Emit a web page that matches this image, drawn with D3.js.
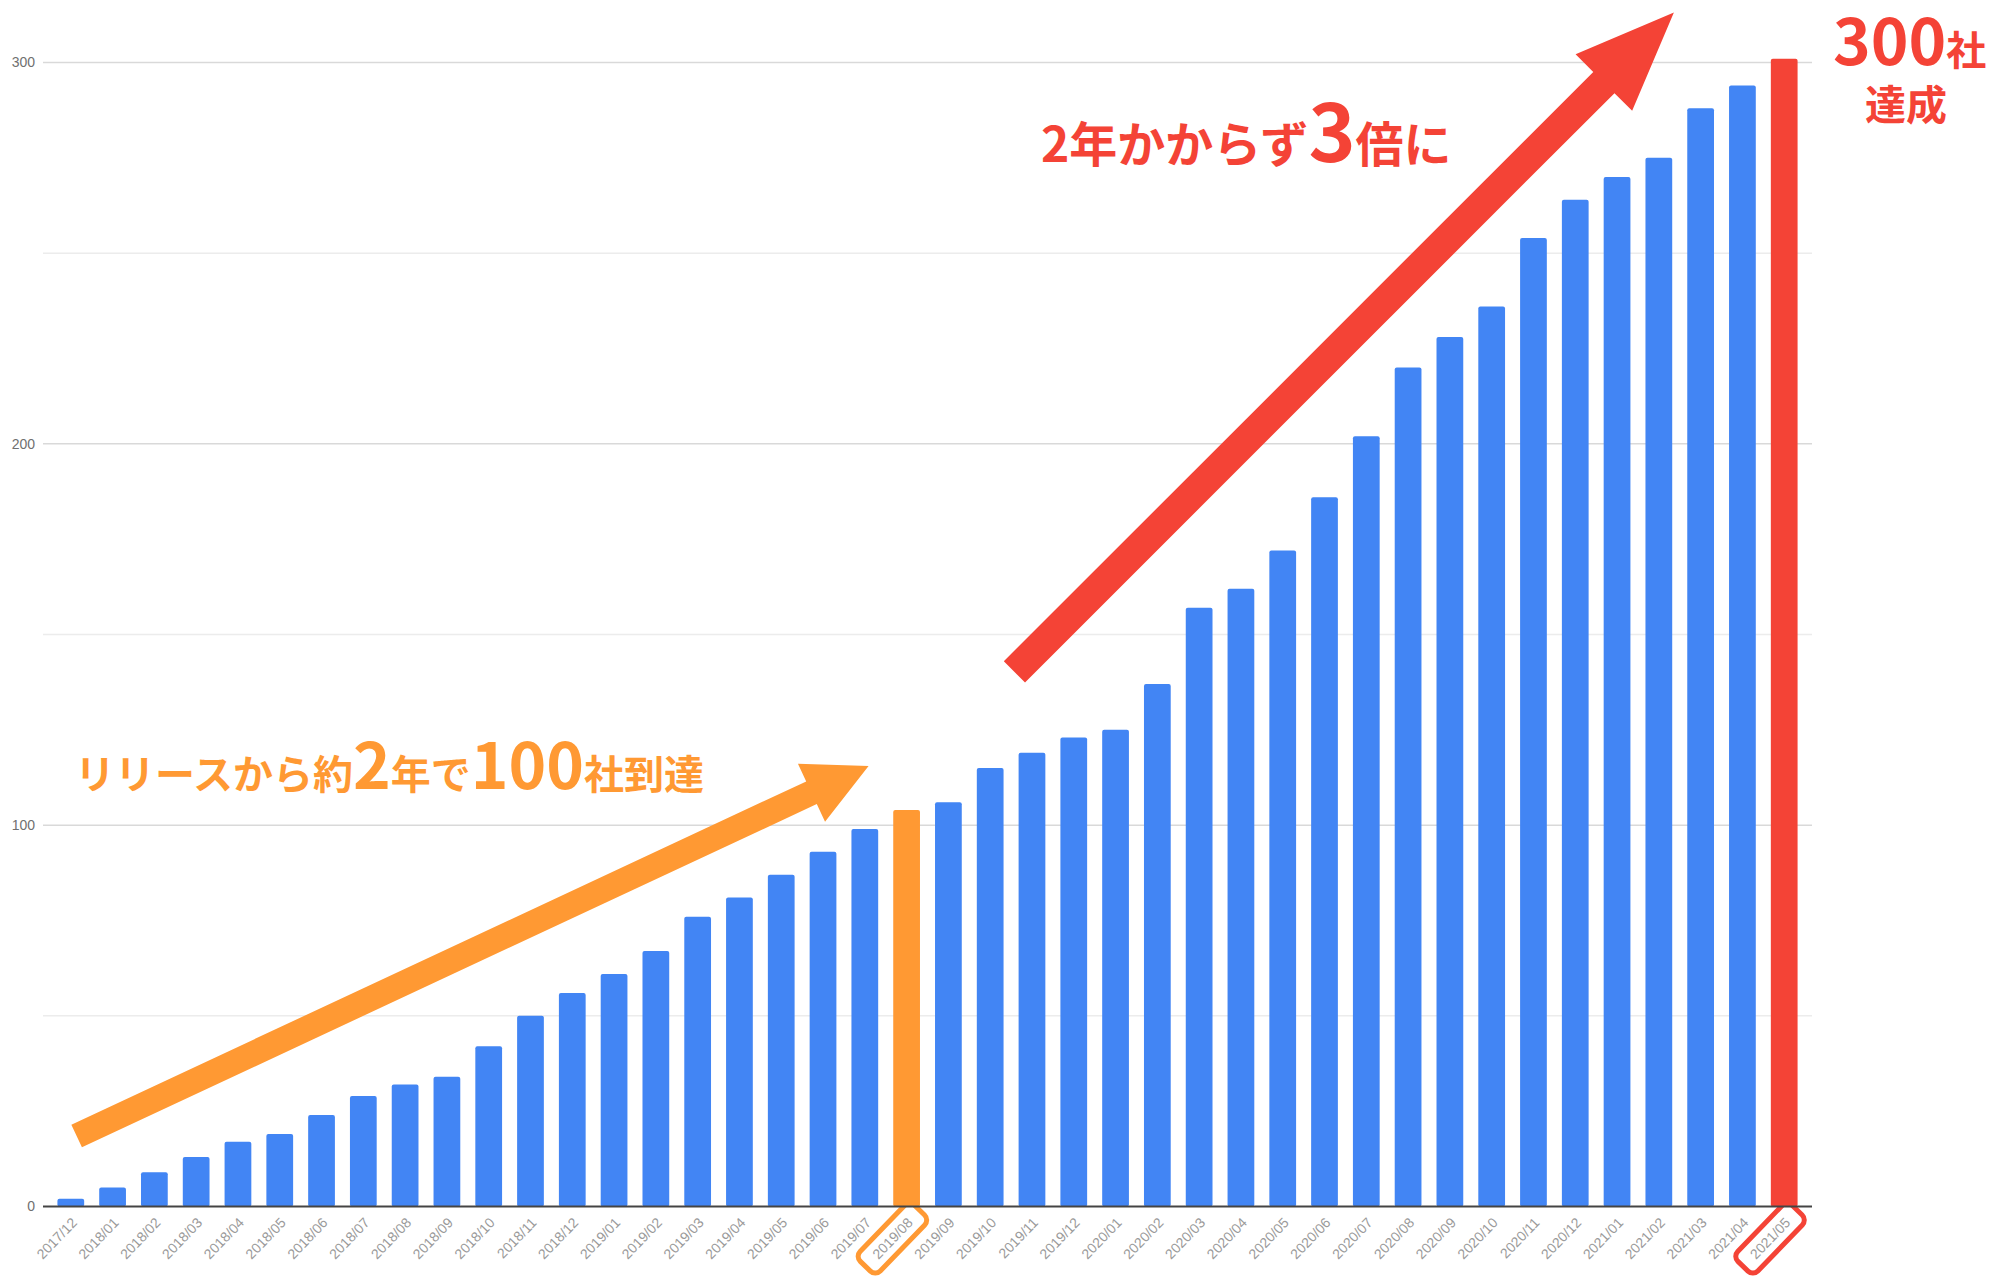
<!DOCTYPE html>
<html>
<head>
<meta charset="utf-8">
<script src="https://cdn.jsdelivr.net/npm/d3@7"></script>
<style>
  body { margin: 0; background: #fff; }
  svg { display: block; }
</style>
</head>
<body>
<div id="chart"></div>
<script>
// data
const months = [
  "2017/12",
  "2018/01", "2018/02", "2018/03", "2018/04", "2018/05", "2018/06",
  "2018/07", "2018/08", "2018/09", "2018/10", "2018/11", "2018/12",
  "2019/01", "2019/02", "2019/03", "2019/04", "2019/05", "2019/06",
  "2019/07", "2019/08", "2019/09", "2019/10", "2019/11", "2019/12",
  "2020/01", "2020/02", "2020/03", "2020/04", "2020/05", "2020/06",
  "2020/07", "2020/08", "2020/09", "2020/10", "2020/11", "2020/12",
  "2021/01", "2021/02", "2021/03", "2021/04", "2021/05"
];
const companies = [
  2,
  5, 9, 13, 17, 19, 24,
  29, 32, 34, 42, 50, 56,
  61, 67, 76, 81, 87, 93,
  99, 104, 106, 115, 119, 123,
  125, 137, 157, 162, 172, 186,
  202, 220, 228, 236, 254, 264,
  270, 275, 288, 294, 301
];
const yLabelTicks = [0, 100, 200, 300];
const yGridTicks = [50, 100, 150, 200, 250, 300];
const milestone100 = "2019/08";
const milestone300 = "2021/05";

// constants
const W = 1989;
const H = 1280;
const plotLeft = 43;
const plotRight = 1812;
const plotTop = 62.5;
const plotBottom = 1206.5;
const blue = "#4285F4";
const orange = "#FF9933";
const red = "#F44336";
const jpFont = "'Noto Sans CJK JP', 'Noto Sans', sans-serif";
const axisFont = "'Liberation Sans', Arial, sans-serif";

const svg = d3
  .select("#chart")
  .append("svg")
  .attr("width", W)
  .attr("height", H);

// scales
const x = d3
  .scaleBand()
  .domain(months)
  .range([plotLeft, plotRight])
  .paddingInner(0.36)
  .paddingOuter(0.345);

const y = d3.scaleLinear().domain([0, 300]).range([plotBottom, plotTop]);

// position helpers in data space (month index, value)
const px = (i) => x(months[0]) + x.bandwidth() / 2 + i * x.step();
const py = (v) => y(v);

// gridlines
svg
  .append("g")
  .selectAll("line")
  .data(yGridTicks)
  .enter()
  .append("line")
  .attr("x1", plotLeft)
  .attr("x2", plotRight)
  .attr("y1", (d) => y(d))
  .attr("y2", (d) => y(d))
  .attr("stroke", (d) => (d % 100 === 0 ? "#d9d9d9" : "#ececec"))
  .attr("stroke-width", 1.5);

// y axis labels
const yAxis = d3.axisLeft(y).tickValues(yLabelTicks).tickSize(0).tickPadding(0);
const gy = svg
  .append("g")
  .attr("transform", "translate(35,0)")
  .call(yAxis);
gy.select(".domain").remove();
gy.selectAll("text")
  .attr("font-family", axisFont)
  .attr("font-size", 14)
  .attr("fill", "#707070");

// bars
const barColor = (m) => (m === milestone100 ? orange : m === milestone300 ? red : blue);
svg
  .append("g")
  .selectAll("rect")
  .data(months)
  .enter()
  .append("rect")
  .attr("x", (d) => x(d))
  .attr("y", (d, i) => y(companies[i]))
  .attr("width", x.bandwidth())
  .attr("height", (d, i) => y(0) - y(companies[i]))
  .attr("rx", 2)
  .attr("fill", (d) => barColor(d));

// x axis
const xAxis = d3.axisBottom(x).tickSize(0);
const gx = svg
  .append("g")
  .attr("transform", "translate(0," + plotBottom + ")")
  .call(xAxis);
gx.select(".domain").remove();
gx.selectAll("text")
  .attr("font-family", axisFont)
  .attr("font-size", 14)
  .attr("fill", "#9a9a9a")
  .attr("text-anchor", "end")
  .attr("x", 0)
  .attr("y", 0)
  .attr("dy", 0)
  .attr("transform", "translate(7,17) rotate(-46)");

// highlight boxes around the milestone labels
gx.selectAll(".tick").each(function (d) {
  if (d !== milestone100 && d !== milestone300) return;
  const t = d3.select(this).select("text");
  const len = t.node().getComputedTextLength();
  d3.select(this)
    .append("rect")
    .attr("transform", "translate(7,17) rotate(-46)")
    .attr("x", -len / 2 - 39)
    .attr("y", -5 - 14)
    .attr("width", 78)
    .attr("height", 28)
    .attr("rx", 7)
    .attr("fill", "none")
    .attr("stroke", d === milestone100 ? orange : red)
    .attr("stroke-width", 5);
});

// baseline
svg
  .append("line")
  .attr("x1", plotLeft)
  .attr("x2", plotRight)
  .attr("y1", y(0))
  .attr("y2", y(0))
  .attr("stroke", "#444")
  .attr("stroke-width", 2);

// arrows
function arrow(from, to, shaft, head, headLen, color) {
  const x0 = px(from[0]), y0 = py(from[1]);
  const x1 = px(to[0]), y1 = py(to[1]);
  const len = Math.hypot(x1 - x0, y1 - y0);
  const ux = (x1 - x0) / len, uy = (y1 - y0) / len;
  const nx = -uy, ny = ux;
  const bx = x1 - ux * headLen, by = y1 - uy * headLen;
  const pts = [
    [x0 + nx * shaft, y0 + ny * shaft],
    [bx + nx * shaft, by + ny * shaft],
    [bx + nx * head, by + ny * head],
    [x1, y1],
    [bx - nx * head, by - ny * head],
    [bx - nx * shaft, by - ny * shaft],
    [x0 - nx * shaft, y0 - ny * shaft],
  ];
  svg
    .append("polygon")
    .attr("points", pts.map((p) => p.join(",")).join(" "))
    .attr("fill", color);
}
arrow([0.14, 18.5], [19.09, 115.5], 12.5, 32, 63, orange);
arrow([22.58, 140.2], [38.36, 313.1], 15, 40, 99, red);

// annotation texts
function label(xpos, ypos, parts, color, anchor) {
  const t = svg
    .append("text")
    .attr("x", xpos)
    .attr("y", ypos)
    .attr("font-family", jpFont)
    .attr("font-weight", "bold")
    .attr("fill", color)
    .attr("text-anchor", anchor || "start");
  parts.forEach((p) => {
    t.append("tspan").attr("font-size", p[1]).text(p[0]);
  });
}
label(75, 789, [["リリースから約", 40], ["2", 64], ["年で", 40], ["100", 64], ["社到達", 40]], orange);
label(1041, 162, [["2年かからず", 48], ["3", 80], ["倍に", 48]], red);
label(1833, 65, [["300", 64], ["社", 40]], red);
label(1906, 120, [["達成", 41]], red, "middle");
</script>
</body>
</html>
